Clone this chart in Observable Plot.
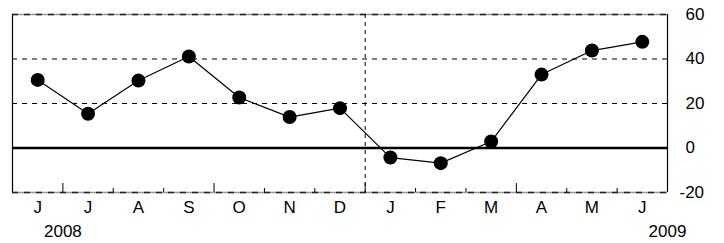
<!DOCTYPE html>
<html>
<head>
<meta charset="utf-8">
<script src="https://cdn.jsdelivr.net/npm/d3@7"></script>
<script src="https://cdn.jsdelivr.net/npm/@observablehq/plot@0.6"></script>
<style>
  html, body { margin: 0; padding: 0; background: #fff; }
  svg { display: block; }
</style>
</head>
<body>
<div id="chart"></div>
<script>
const months = ["J", "J", "A", "S", "O", "N", "D", "J", "F", "M", "A", "M", "J"];
const values = [30.6, 15.4, 30.3, 41.1, 22.7, 13.9, 17.9, -4.3, -6.8, 2.9, 33.0, 43.8, 47.7];
const yTicks = [60, 40, 20, 0, -20];
const gridLines = [40, 20];
const tallTicks = [0.5, 3.5, 6.5, 9.5];
const shortTicks = [1.5, 2.5, 4.5, 5.5, 7.5, 8.5, 10.5, 11.5];
const yearLabels = [{x: 0.5, text: "2008"}, {x: 12.5, text: "2009"}];
const yearDivider = [6.5];

const data = values.map((v, i) => ({i, v, m: months[i]}));
const font = "Liberation Sans, Arial, Helvetica, sans-serif";

const chart = Plot.plot({
  width: 724,
  height: 243,
  marginLeft: 12,
  marginRight: 57,
  marginTop: 14,
  marginBottom: 51,
  x: {type: "linear", domain: [-0.5, 12.5], axis: null},
  y: {domain: [-20, 60], axis: null},
  style: {fontFamily: font, fontSize: "17px", color: "#000", background: "#fff"},
  marks: [
    Plot.ruleY(gridLines, {stroke: "#000", strokeWidth: 1, strokeDasharray: "5,5"}),
    Plot.ruleY([60, -20], {stroke: "#999", strokeWidth: 1.5}),
    Plot.ruleY([60, -20], {stroke: "#222", strokeWidth: 1.5, strokeDasharray: "6,6"}),
    Plot.ruleX(yearDivider, {stroke: "#000", strokeWidth: 1, strokeDasharray: "4,4"}),
    Plot.ruleX([-0.5, 12.5], {stroke: "#000", strokeWidth: 1.2}),
    Plot.ruleX(tallTicks, {y1: 60, y2: -20, insetTop: 169, stroke: "#000", strokeWidth: 1}),
    Plot.ruleX(shortTicks, {y1: 60, y2: -20, insetTop: 174, stroke: "#000", strokeWidth: 1}),
    Plot.ruleY([0], {stroke: "#000", strokeWidth: 2.5}),
    Plot.line(data, {x: "i", y: "v", stroke: "#000", strokeWidth: 1.2}),
    Plot.dot(data, {x: "i", y: "v", r: 7, fill: "#000", stroke: "none"}),
    Plot.text(data, {x: "i", y: -20, text: "m", dy: 15, lineAnchor: "middle", fill: "#000"}),
    Plot.text(yearLabels, {x: "x", y: -20, text: "text", dy: 39, lineAnchor: "middle", fill: "#000"}),
    Plot.text(yTicks.filter(d => d >= 0), {x: 12.5, y: d => d, text: d => String(d), dx: 18, textAnchor: "start", lineAnchor: "middle", fill: "#000"}),
    Plot.text(yTicks.filter(d => d < 0), {x: 12.5, y: d => d, text: d => String(d), dx: 12, textAnchor: "start", lineAnchor: "middle", fill: "#000"})
  ]
});
document.getElementById("chart").appendChild(chart);
</script>
</body>
</html>
